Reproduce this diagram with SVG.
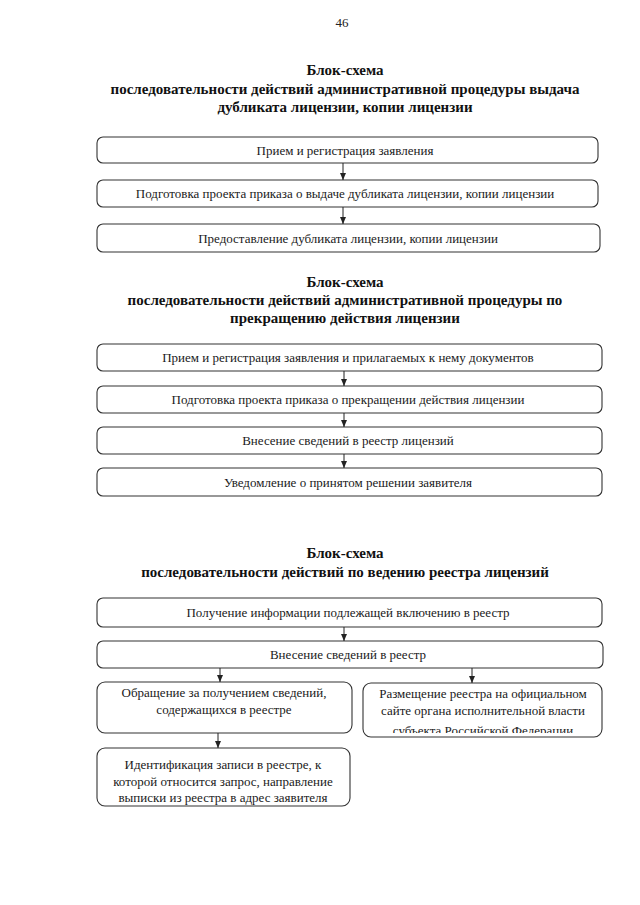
<svg xmlns="http://www.w3.org/2000/svg" width="640" height="905" viewBox="0 0 640 905">
<style>
.bg{fill:#ffffff}
.box{fill:#ffffff;stroke:#333333;stroke-width:1.1}
.t{font-family:"Liberation Serif","Times New Roman",serif;font-size:13px;fill:#1a1a1a;text-anchor:middle}
.h{font-family:"Liberation Serif","Times New Roman",serif;font-size:15px;font-weight:bold;fill:#111111;text-anchor:middle}
.pn{font-family:"Liberation Serif","Times New Roman",serif;font-size:13px;fill:#222222;text-anchor:middle}
.c{stroke:#222222;stroke-width:1;fill:none}
</style>
<defs>
<marker id="ah" markerWidth="8" markerHeight="8" refX="7" refY="4" orient="auto" markerUnits="userSpaceOnUse">
<path d="M0,1 L7,4 L0,7 Z" fill="#222222"/>
</marker>
<clipPath id="clipR"><rect x="363" y="683" width="240" height="50"/></clipPath>
</defs>
<rect class="bg" x="0" y="0" width="640" height="905"/>
<text class="pn" x="342" y="27">46</text>

<g id="title1">
<text class="h" x="345" y="75">Блок-схема</text>
<text class="h" x="345" y="94">последовательности действий административной процедуры выдача</text>
<text class="h" x="345" y="112">дубликата лицензии, копии лицензии</text>
</g>

<g id="n1"><rect class="box" x="97" y="137" width="501" height="26" rx="6"/><text class="t" x="345" y="155">Прием и регистрация заявления</text></g>
<g id="n2"><rect class="box" x="97" y="180" width="501" height="27" rx="6"/><text class="t" x="345" y="198">Подготовка проекта приказа о выдаче дубликата лицензии, копии лицензии</text></g>
<g id="n3"><rect class="box" x="97" y="224" width="503" height="28" rx="6"/><text class="t" x="348" y="243">Предоставление дубликата лицензии, копии лицензии</text></g>

<g id="title2">
<text class="h" x="345" y="287">Блок-схема</text>
<text class="h" x="345" y="305">последовательности действий административной процедуры по</text>
<text class="h" x="345" y="323">прекращению действия лицензии</text>
</g>

<g id="n4"><rect class="box" x="97" y="344" width="505" height="27" rx="6"/><text class="t" x="348" y="362">Прием и регистрация заявления и прилагаемых к нему документов</text></g>
<g id="n5"><rect class="box" x="97" y="386" width="505" height="27" rx="6"/><text class="t" x="348" y="404">Подготовка проекта приказа о прекращении действия лицензии</text></g>
<g id="n6"><rect class="box" x="97" y="427" width="505" height="27" rx="6"/><text class="t" x="348" y="445">Внесение сведений в реестр лицензий</text></g>
<g id="n7"><rect class="box" x="97" y="468" width="505" height="28" rx="6"/><text class="t" x="348" y="487">Уведомление о принятом решении заявителя</text></g>

<g id="title3">
<text class="h" x="345" y="558">Блок-схема</text>
<text class="h" x="345" y="577">последовательности действий по ведению реестра лицензий</text>
</g>

<g id="n8"><rect class="box" x="97" y="598" width="505" height="29" rx="6"/><text class="t" x="348" y="617">Получение информации подлежащей включению в реестр</text></g>
<g id="n9"><rect class="box" x="97" y="641" width="506" height="27" rx="6"/><text class="t" x="348" y="659">Внесение сведений в реестр</text></g>
<g id="n10"><rect class="box" x="97" y="682" width="255" height="51" rx="8"/>
<text class="t" x="224" y="697">Обращение за получением сведений,</text>
<text class="t" x="224" y="714">содержащихся в реестре</text></g>
<g id="n11"><rect class="box" x="363" y="683" width="239" height="54" rx="8"/>
<g clip-path="url(#clipR)">
<text class="t" x="483" y="698">Размещение реестра на официальном</text>
<text class="t" x="483" y="715">сайте органа исполнительной власти</text>
<text class="t" x="483" y="735">субъекта Российской Федерации</text>
</g></g>
<g id="n12"><rect class="box" x="97" y="748" width="253" height="58" rx="8"/>
<text class="t" x="223" y="769">Идентификация записи в реестре, к</text>
<text class="t" x="223" y="786">которой относится запрос, направление</text>
<text class="t" x="223" y="802">выписки из реестра в адрес заявителя</text></g>

<g id="connectors">
<line class="c" x1="343" y1="163" x2="343" y2="180" marker-end="url(#ah)"/>
<line class="c" x1="343" y1="207" x2="343" y2="224" marker-end="url(#ah)"/>
<line class="c" x1="344" y1="371" x2="344" y2="386" marker-end="url(#ah)"/>
<line class="c" x1="344" y1="413" x2="344" y2="427" marker-end="url(#ah)"/>
<line class="c" x1="344" y1="454" x2="344" y2="468" marker-end="url(#ah)"/>
<line class="c" x1="344" y1="627" x2="344" y2="641" marker-end="url(#ah)"/>
<line class="c" x1="220" y1="668" x2="220" y2="682" marker-end="url(#ah)"/>
<line class="c" x1="472" y1="668" x2="472" y2="683" marker-end="url(#ah)"/>
<line class="c" x1="218" y1="733" x2="218" y2="748" marker-end="url(#ah)"/>
</g>
</svg>
